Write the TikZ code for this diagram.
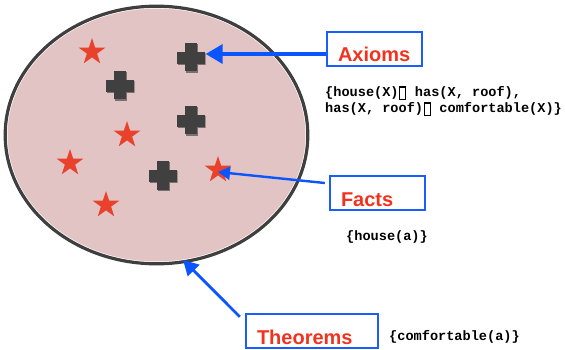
\documentclass[tikz,border=0pt]{standalone}
\usepackage{fontspec}
\setmainfont{Liberation Sans}
\newfontfamily\codefont{Liberation Mono}
\usepackage{xcolor}
\usetikzlibrary{shapes.geometric,arrows.meta}

\definecolor{setpink}{HTML}{E3C4C4}
\definecolor{edgegray}{HTML}{3F3F3F}
\definecolor{crossgray}{HTML}{404040}
\definecolor{shadegray}{HTML}{7A7070}
\definecolor{starred}{HTML}{E8412C}
\definecolor{boxblue}{HTML}{1A5CFF}
\definecolor{arrowblue}{HTML}{0B55FF}
\definecolor{labelred}{HTML}{F2321F}

% caractère manquant (boîte vide) dans les formules
\newcommand{\carrevide}{\makebox[0.6em]{\setlength{\fboxsep}{0pt}\setlength{\fboxrule}{1.1pt}%
    \raisebox{-0.18em}{\fbox{\rule{0pt}{0.82em}\hspace{0.34em}}}}}

\begin{document}
\begin{tikzpicture}[x=1pt, y=-1pt,
        starmark/.style={star, star points=5, star point ratio=2.6,
            minimum size=28pt, inner sep=0pt, fill=starred},
        plusmark/.style={inner sep=0pt, minimum size=29pt,
            path picture={
                \fill[shadegray] ([xshift=-5pt, yshift=-1pt]path picture bounding box.north)
                    rectangle ([xshift=7pt, yshift=-1pt]path picture bounding box.south);
                \fill[shadegray] ([xshift=1pt, yshift=5pt]path picture bounding box.west)
                    rectangle ([xshift=1pt, yshift=-7pt]path picture bounding box.east);
                \fill[crossgray] ([xshift=-6pt]path picture bounding box.north)
                    rectangle ([xshift=6pt, yshift=1pt]path picture bounding box.south);
                \fill[crossgray] ([yshift=6pt]path picture bounding box.west)
                    rectangle ([xshift=-1pt, yshift=-6pt]path picture bounding box.east);}},
        titlebox/.style={draw=boxblue, line width=2.4pt, inner xsep=11pt,
            inner ysep=4pt, text height=26pt, text depth=0pt, align=left,
            text=labelred, font=\fontsize{20}{24}\selectfont\bfseries},
        formula/.style={anchor=west, inner sep=0pt, align=left,
            font=\codefont\fontsize{13.6}{16}\selectfont\bfseries},
        pointer/.style={draw=arrowblue}]

    \useasboundingbox (0,0) rectangle (565,350);

    %% ── Ensemble des théorèmes ──────────────────────────────────────────
    \node[ellipse, minimum width=299pt, minimum height=254pt, inner sep=0pt,
          outer sep=0pt, fill=setpink, draw=white, line width=1pt]
        (thset) at (156.5,135) {};
    \draw[edgegray, line width=3.2pt]
        (thset.center) ellipse [x radius=151.3, y radius=128.8];

    %% ── Faits (étoiles) ─────────────────────────────────────────────────
    \node[starmark] (s1) at (92,52) {};
    \node[starmark] (s2) at (127,135) {};
    \node[starmark] (s3) at (70,163) {};
    \node[starmark] (s4) at (106,205) {};
    \node[starmark] (s5) at (218,170) {};

    %% ── Axiomes (croix) ─────────────────────────────────────────────────
    \node[plusmark] (c1) at (191,58) {};
    \node[plusmark] (c2) at (120,86) {};
    \node[plusmark] (c3) at (191,121) {};
    \node[plusmark] (c4) at (163,176) {};

    %% ── Étiquettes ──────────────────────────────────────────────────────
    \node[titlebox, text width=73pt] (axioms) at (374.5,49) {Axioms};
    \node[titlebox, text width=73pt] (facts) at (377.5,193) {Facts};
    \node[titlebox, text width=110pt] (theorems) at (312,331) {Theorems};

    \node[formula] (axset) at (325,101)
        {\{house(X)\carrevide{} has(X, roof),\\
         has(X, roof)\carrevide{} comfortable(X)\}};
    \node[formula] (factset) at (346,237) {\{house(a)\}};
    \node[formula] (thmset) at (389,337) {\{comfortable(a)\}};

    %% ── Flèches ─────────────────────────────────────────────────────────
    \draw[pointer, line width=3.8pt, -{Triangle[length=17pt, width=19pt]}]
        ([yshift=-5pt]axioms.west) -- ([yshift=4pt]c1.east);
    \draw[pointer, line width=2.4pt, -{Triangle[length=12pt, width=13pt]}]
        ([xshift=-4pt, yshift=10pt]facts.west) -- ([yshift=-2pt]s5.center);
    \draw[pointer, line width=2.8pt, -{Triangle[length=15pt, width=16pt]}]
        ([xshift=-5pt, yshift=-4pt]theorems.north west) -- (thset.-78);

\end{tikzpicture}
\end{document}
